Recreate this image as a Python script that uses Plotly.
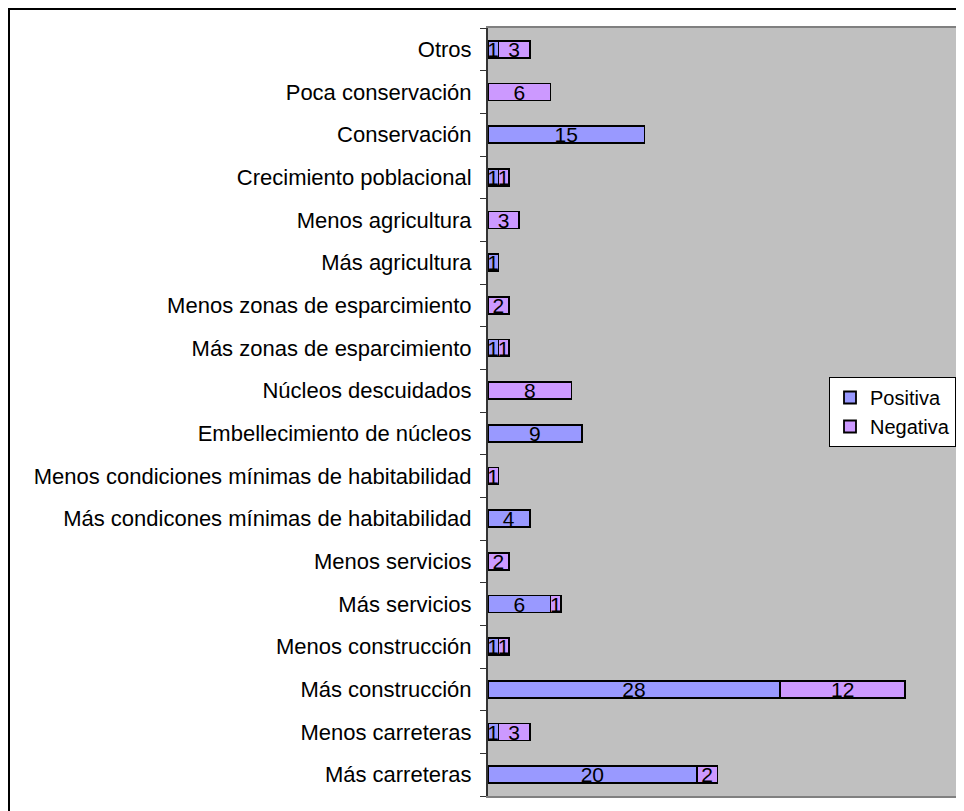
import plotly.graph_objects as go

categorias = [
    "Más carreteras",
    "Menos carreteras",
    "Más construcción",
    "Menos construcción",
    "Más servicios",
    "Menos servicios",
    "Más condicones mínimas de habitabilidad",
    "Menos condiciones mínimas de habitabilidad",
    "Embellecimiento de núcleos",
    "Núcleos descuidados",
    "Más zonas de esparcimiento",
    "Menos zonas de esparcimiento",
    "Más agricultura",
    "Menos agricultura",
    "Crecimiento poblacional",
    "Conservación",
    "Poca conservación",
    "Otros",
]
positiva = [20, 1, 28, 1, 6, None, 4, None, 9, None, 1, None, 1, None, 1, 15, None, 1]
negativa = [2, 3, 12, 1, 1, 2, None, 1, None, 8, 1, 2, None, 3, 1, None, 6, 3]

fuente = "Liberation Sans, Arial, sans-serif"

fig = go.Figure()
for nombre, valores, color, grupo in [("Positiva", positiva, "#9999FF", "a"),
                                      ("Negativa", negativa, "#CC99FF", "b")]:
    fig.add_trace(go.Bar(
        y=categorias, x=valores, name=nombre, orientation="h",
        marker=dict(color=color, line=dict(color="black", width=1.8)),
        text=["" if v is None else str(v) for v in valores],
        textposition="inside", insidetextanchor="middle", textangle=0,
        constraintext="none", cliponaxis=False,
        textfont=dict(color="black", size=21, family=fuente),
        legendgroup=grupo,
    ))

# la página añade 8px de margen; el marco exterior queda en el borde de la figura
ML, MT, W, H = 480, 20, 956, 803
PW, PH = 470, 768

# marco exterior del gráfico
fig.add_shape(type="rect", xref="paper", yref="paper",
              x0=(1 - ML) / PW, x1=(W + 40 - ML) / PW,
              y0=-0.1, y1=(PH + MT - 1) / PH,
              line=dict(color="black", width=2), layer="below")
# borde derecho del área de trazado
fig.add_shape(type="line", xref="x domain", yref="y domain",
              x0=1, x1=1, y0=0, y1=1, line=dict(color="#808080", width=2))

fig.update_layout(
    width=W, height=H,
    margin=dict(l=ML, r=W - ML - PW, t=MT, b=H - MT - PH, autoexpand=False),
    barmode="stack", bargap=0.6,
    plot_bgcolor="#C0C0C0", paper_bgcolor="white",
    font=dict(family=fuente, size=21, color="black"),
    showlegend=True,
    legend=dict(x=(948 - ML) / PW, y=0.5, xanchor="right", yanchor="middle",
                bgcolor="white", bordercolor="black", borderwidth=1,
                font=dict(size=20), tracegroupgap=12,
                traceorder="normal", itemwidth=30),
    xaxis=dict(range=[0, 45.06], showticklabels=False, showgrid=False,
               zeroline=False, ticks="", showline=True, linecolor="#808080",
               linewidth=2, mirror=True),
    yaxis=dict(type="category", showgrid=False, ticks="outside",
               tickson="boundaries", ticklen=6, tickcolor="#333333",
               showline=True, linecolor="#333333", linewidth=2,
               ticklabelstandoff=10, tickfont=dict(size=22)),
)

fig.write_html("out.html")
